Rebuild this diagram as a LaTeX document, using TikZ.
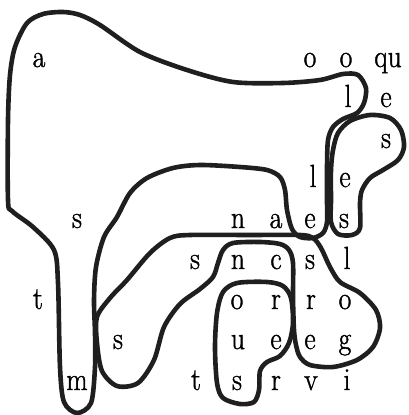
\documentclass[tikz,border=0pt]{standalone}
\usepackage{fontspec}
\usepackage{tikz}
\newfontfamily\gridfont{Latin Modern Roman}[FakeStretch=0.86, FakeBold=1.2]

\tikzset{
  letter/.style={anchor=base, inner sep=0pt, font=\gridfont\fontsize{32}{32}\selectfont},
  loop/.style={line width=4.6pt, draw={black!88}, line join=round}
}

\begin{document}
\begin{tikzpicture}[x=1pt, y=-1pt]
		\useasboundingbox (0,0) rectangle (408,415);
		% letters, row by row: x/baseline/name/text
		\foreach \x/\y/\n/\t in {39/67/a1/a, 310/67/o1/o, 346/67/o2/o, 388/67/qu/qu,
				348/107/l1/l, 386/107/e1/e, 386/148/s1/s, 313/187/l2/l, 345/187/e2/e,
				77/228/s2/s, 238/228/n1/n, 276/228/a2/a, 310/228/e3/e, 344/228/s3/s,
				195/269/s4/s, 238/269/n2/n, 276/269/c1/c, 310/269/s5/s, 347/269/l3/l,
				38/309/t1/t, 237/309/o3/o, 276/309/r1/r, 311/309/r2/r, 345/309/o4/o,
				118/349/s6/s, 238/349/u1/u, 276/349/e4/e, 310/349/e5/e, 345/349/g1/g,
				77/390/m1/m, 196/390/t2/t, 237/390/s7/s, 276/390/r3/r, 311/390/v1/v, 347/390/i1/i}
			\node[letter] (\n) at (\x,\y) {\t};
		% big outline
		\draw[loop] plot[smooth cycle, tension=0.5] coordinates {
			(8,200) (8,120) (10,75) (15,47) (27,23) (43,14) (63,12) (80,15) (100,25)
			(140,52) (187,70) (233,82) (283,83) (320,80) (343,74) (358,75) (366,88)
			(364,103) (357,113) (343,119) (333,127) (328,140) (327,167) (327,200)
			(327,222) (323,233) (313,238) (300,237) (292,229) (287,210) (285,190)
			(280,177) (267,170) (240,167) (200,165) (173,168) (147,178) (130,193)
			(117,217) (104,237) (96,267) (94,300) (95,333) (95,367) (91,403) (77,413)
			(64,402) (60,367) (58,283) (54,250) (33,227) (12,211)};
		% loop round the upper s
		\draw[loop] plot[smooth cycle, tension=0.5] coordinates {
			(331,222) (331,200) (331,170) (333,150) (338,133) (350,121) (370,115)
			(390,118) (401,130) (404,147) (398,160) (383,170) (370,178) (362,190)
			(360,203) (360,228) (352,235) (338,234)};
		% middle band
		\draw[loop] plot[smooth cycle, tension=0.5] coordinates {
			(97,317) (110,298) (127,280) (150,253) (170,238) (190,235) (250,235)
			(300,235) (313,238) (321,248) (330,267) (340,282) (360,293) (376,310)
			(380,328) (373,347) (357,360) (333,367) (310,365) (300,357) (296,345)
			(294,330) (293,297) (293,263) (289,250) (280,244) (260,242) (233,243)
			(223,250) (218,263) (213,277) (200,289) (180,304) (164,327) (154,360)
			(138,383) (117,386) (102,371) (97,343)};
		% inner loop
		\draw[loop] plot[smooth cycle, tension=0.5] coordinates {
			(237,283) (267,282) (283,286) (291,298) (293,323) (289,343) (280,356)
			(267,362) (260,371) (259,390) (254,402) (240,404) (223,398) (217,383)
			(215,347) (217,313) (223,292)};
	\end{tikzpicture}
\end{document}
